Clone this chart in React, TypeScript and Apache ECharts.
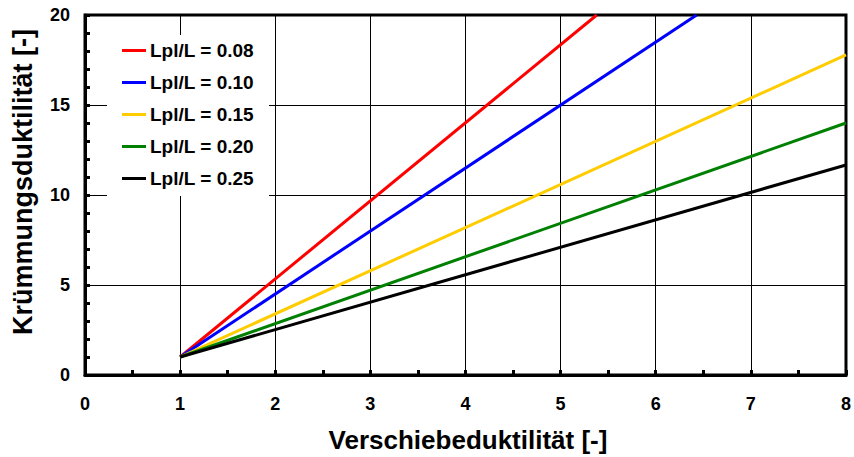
import React, { useEffect, useRef } from "react";
import * as echarts from "echarts";

const seriesNames = ["Lpl/L = 0.08", "Lpl/L = 0.10", "Lpl/L = 0.15", "Lpl/L = 0.20", "Lpl/L = 0.25"];
const seriesColors = ["#ff0000", "#0000ff", "#ffcc00", "#008000", "#000000"];
const line008 = [[1, 1], [5.38, 20]];
const line010 = [[1, 1], [6.43, 20]];
const line015 = [[1, 1], [8, 17.78]];
const line020 = [[1, 1], [8, 14.0]];
const line025 = [[1, 1], [8, 11.67]];
const seriesData = [line008, line010, line015, line020, line025];

const FONT = "Liberation Sans, Arial, sans-serif";

export default function App() {
  const ref = useRef<HTMLDivElement>(null);
  useEffect(() => {
    const chart = echarts.init(ref.current!, null, { renderer: "svg" });
    chart.setOption({
      animation: false,
      backgroundColor: "#fff",
      grid: { left: 85, right: 4, top: 15, bottom: 82, show: true, borderColor: "#000", borderWidth: 3, backgroundColor: "transparent" },
      legend: {
        orient: "vertical",
        left: 107,
        top: 35,
        backgroundColor: "#fff",
        padding: [6, 15, 8, 15],
        itemWidth: 24,
        itemHeight: 3,
        itemGap: 13,
        icon: "rect",
        data: seriesNames,
        textStyle: { fontFamily: FONT, fontWeight: "bold", fontSize: 19, color: "#000", padding: [0, 0, 0, -1] },
      },
      xAxis: {
        type: "value",
        min: 0,
        max: 8,
        interval: 1,
        axisLine: { show: true, onZero: false, lineStyle: { color: "#000", width: 3 } },
        axisTick: { show: true, inside: true, length: 5, lineStyle: { color: "#000", width: 3 } },
        minorTick: { show: true, splitNumber: 2, length: 5, lineStyle: { color: "#000", width: 3 } },
        splitLine: { show: true, lineStyle: { color: "#000", width: 1 } },
        axisLabel: { margin: 20, fontFamily: FONT, fontWeight: "bold", fontSize: 18, color: "#000" },
      },
      yAxis: {
        type: "value",
        min: 0,
        max: 20,
        interval: 5,
        axisLine: { show: true, onZero: false, lineStyle: { color: "#000", width: 3 } },
        axisTick: { show: true, inside: true, length: 5, lineStyle: { color: "#000", width: 3 } },
        minorTick: { show: true, splitNumber: 5, length: 5, lineStyle: { color: "#000", width: 3 } },
        splitLine: { show: true, lineStyle: { color: "#000", width: 1 } },
        axisLabel: { margin: 15, fontFamily: FONT, fontWeight: "bold", fontSize: 18, color: "#000" },
      },
      graphic: [
        {
          type: "text",
          x: 468,
          y: 440,
          style: { text: "Verschiebeduktilität [-]", fontFamily: FONT, fontWeight: "bold", fontSize: 26, fill: "#000", align: "center", verticalAlign: "middle" },
        },
        {
          type: "text",
          x: 23,
          y: 182,
          rotation: Math.PI / 2,
          style: { text: "Krümmungsduktilität [-]", fontFamily: FONT, fontWeight: "bold", fontSize: 27, fill: "#000", align: "center", verticalAlign: "middle" },
        },
      ],
      series: seriesData.map((d, i) => ({
        name: seriesNames[i],
        type: "line",
        data: d,
        showSymbol: false,
        symbol: "none",
        color: seriesColors[i],
        lineStyle: { color: seriesColors[i], width: 3 },
        z: 3,
      })),
    });
    return () => chart.dispose();
  }, []);
  return <div ref={ref} style={{ width: 854, height: 457, position: "absolute", left: 0, top: 0 }} />;
}
